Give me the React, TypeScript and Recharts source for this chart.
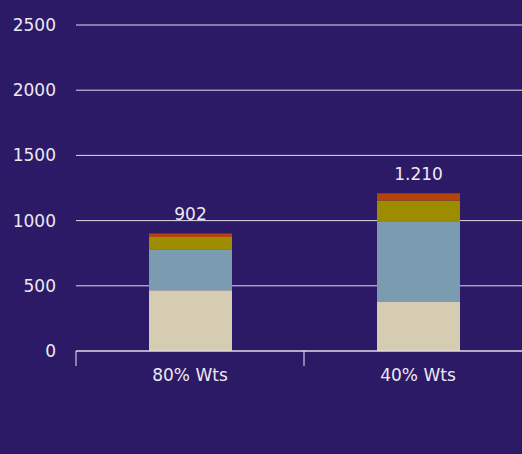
import { BarChart, Bar, XAxis, YAxis, CartesianGrid, LabelList } from 'recharts';

const categories = ['80% Wts', '40% Wts'];
const baseValues = [465, 375];
const secondValues = [315, 615];
const thirdValues = [95, 165];
const topValues = [27, 55];
const totalLabels = ['902', '1.210'];
const yTicks = [0, 500, 1000, 1500, 2000, 2500];

const CHART_W = 524;
const CHART_H = 446;
const AXIS_W = 68;
const TOP = 17;
const PLOT_BOTTOM = 343;
const BAND = (CHART_W - AXIS_W) / categories.length;

const BG = '#2d1a66';
const TEXT = '#ebe8f3';
const FONT = '"DejaVu Sans", sans-serif';

const data = categories.map((name, i) => ({
  name,
  base: baseValues[i],
  second: secondValues[i],
  third: thirdValues[i],
  top: topValues[i],
  label: totalLabels[i]
}));

function CategoryTick(props: any) {
  const { x, payload } = props;
  const edge = x - BAND / 2;
  return (
    <g>
      <line x1={edge} y1={PLOT_BOTTOM} x2={edge} y2={PLOT_BOTTOM + 15} stroke={TEXT} strokeWidth={1} />
      <text x={x} y={PLOT_BOTTOM + 30} textAnchor="middle" fill={TEXT} fontSize={17} fontFamily={FONT}>
        {payload.value}
      </text>
    </g>
  );
}

function TotalLabel(props: any) {
  const { x, y, width, value } = props;
  return (
    <text x={x + width / 2} y={y - 13} textAnchor="middle" fill={TEXT} fontSize={17} fontFamily={FONT}>
      {value}
    </text>
  );
}

export default function App() {
  return (
    <div
      style={{
        width: 522,
        height: 454,
        overflow: 'hidden',
        background: BG,
        paddingLeft: 8,
        paddingTop: 8,
        boxSizing: 'border-box'
      }}
    >
      <style>{`body { margin: 0; background: ${BG}; }`}</style>
      <BarChart width={CHART_W} height={CHART_H} data={data} margin={{ top: TOP, right: 0, left: 0, bottom: 0 }}>
        <CartesianGrid vertical={false} stroke="#ffffff" strokeOpacity={0.85} />
        <XAxis
          dataKey="name"
          height={CHART_H - PLOT_BOTTOM}
          axisLine={{ stroke: TEXT, strokeOpacity: 0.9 }}
          tickLine={false}
          tick={<CategoryTick />}
          interval={0}
        />
        <YAxis
          width={AXIS_W}
          domain={[0, 2500]}
          ticks={yTicks}
          axisLine={false}
          tickLine={false}
          tickSize={0}
          tickMargin={20}
          tick={{ fill: TEXT, fontSize: 17, fontFamily: FONT }}
        />
        <Bar dataKey="base" stackId="a" fill="#d6ccb1" barSize={83} isAnimationActive={false} />
        <Bar dataKey="second" stackId="a" fill="#7b9bb1" barSize={83} isAnimationActive={false} />
        <Bar dataKey="third" stackId="a" fill="#9c8d00" barSize={83} isAnimationActive={false} />
        <Bar dataKey="top" stackId="a" fill="#b8420b" barSize={83} isAnimationActive={false}>
          <LabelList dataKey="label" content={<TotalLabel />} />
        </Bar>
      </BarChart>
    </div>
  );
}
